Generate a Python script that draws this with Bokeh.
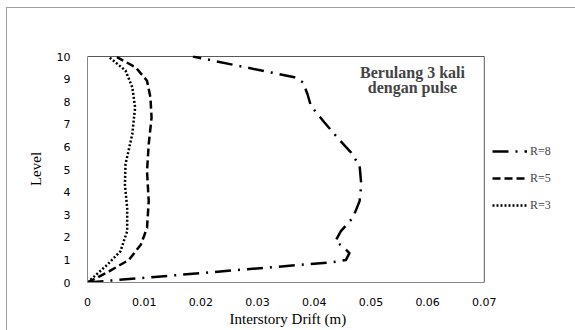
from bokeh.plotting import figure
from bokeh.models import (Legend, LegendItem, Label, FixedTicker, Title,
                          CustomJSTickFormatter, Range1d)
from bokeh.embed import file_html
from bokeh.resources import INLINE

# Data: (interstory drift in m, level)
r8_drift = [0, 0.0433, 0.0456, 0.0462, 0.0450, 0.0437, 0.0447, 0.0468, 0.0480, 0.0483,
            0.0480, 0.0465, 0.0441, 0.0418, 0.0394, 0.0388, 0.0380, 0.0365, 0.0186]
r8_level = [0, 0.9, 1.0, 1.3, 1.6, 1.82, 2.27, 2.86, 3.6, 4.34,
            5.16, 5.75, 6.41, 7.08, 7.82, 8.34, 8.86, 9.08, 10]
r5_drift = [0, 0.0038, 0.0073, 0.0094, 0.0105, 0.0108, 0.0105, 0.0108, 0.0113, 0.0111,
            0.0105, 0.0085, 0.0052]
r5_level = [0, 0.49, 1.0, 1.67, 2.41, 3.6, 4.93, 6.12, 7.3, 8.19, 8.93, 9.52, 9.97]
r3_drift = [0, 0.0035, 0.0058, 0.0070, 0.0070, 0.0066, 0.0067, 0.0079, 0.0084, 0.0079,
            0.0067, 0.0038]
r3_level = [0, 0.79, 1.38, 2.27, 3.3, 4.34, 5.23, 6.56, 7.75, 8.64, 9.38, 9.97]
x_ticks = [0, 0.01, 0.02, 0.03, 0.04, 0.05, 0.06, 0.07]
y_ticks = [0, 1, 2, 3, 4, 5, 6, 7, 8, 9, 10]
series_labels = ["R=8", "R=5", "R=3"]
title_lines = ["Berulang 3 kali", "dengan pulse"]
x_label = "Interstory Drift (m)"
y_label = "Level"

SERIF = "Liberation Serif"
SANS = "DejaVu Sans"

# plot area: 396 px for the x axis span, frame extends to the right to hold the legend
x_min, x_max = x_ticks[0], x_ticks[-1]
y_min, y_max = y_ticks[0], y_ticks[-1]
frame_w, axis_w = 488, 396
frame_h, axis_h = 226, 225
x_end = x_min + (x_max - x_min) * frame_w / axis_w
y_end = y_min + (y_max - y_min) * frame_h / axis_h

p = figure(width=568, height=322, output_backend="svg", toolbar_location=None,
           x_range=Range1d(x_min, x_end), y_range=Range1d(y_min, y_end))
p.styles = {"border-left": "1px solid #a0a0a0", "border-top": "1px solid #a0a0a0",
            "margin-left": "6px", "margin-top": "7px", "box-sizing": "content-box"}
p.min_border_left = 80
p.min_border_right = 0
p.min_border_top = 47
p.min_border_bottom = 49
p.grid.visible = False
p.background_fill_color = "white"
p.border_fill_color = "white"
p.outline_line_color = None

# axes
p.xaxis.ticker = FixedTicker(ticks=x_ticks)
p.yaxis.ticker = FixedTicker(ticks=y_ticks)
p.xaxis.bounds = (x_min, x_max)
p.yaxis.bounds = (y_min, y_max)
p.xaxis.formatter = CustomJSTickFormatter(code="return Number(tick.toFixed(2)).toString();")
for ax in (p.xaxis, p.yaxis):
    ax.major_tick_line_color = None
    ax.minor_tick_line_color = None
    ax.axis_line_color = "#868686"
    ax.major_label_text_font = SANS
    ax.major_label_text_font_size = "11px"
    ax.major_label_text_color = "#000000"
    ax.axis_label_text_font = SERIF
    ax.axis_label_text_font_style = "normal"
    ax.axis_label_text_font_size = "15px"
    ax.axis_label_text_color = "#000000"
p.yaxis.axis_label = y_label
p.xaxis.major_label_standoff = 9
p.yaxis.major_label_standoff = 11
p.yaxis.axis_label_standoff = 10

# x axis title, centred under the 0..0.07 span (the frame extends further right)
p.add_layout(Title(text=x_label, align="left", offset=142, standoff=0,
                   text_font=SERIF, text_font_style="normal", text_font_size="15px",
                   text_color="#000000"), "below")

# plot-area border (top and right sides)
p.line([x_min, x_max, x_max], [y_max, y_max, y_min], line_color="#595959", line_width=1)

r8 = p.line(r8_drift, r8_level, line_color="black", line_width=2.5,
            line_dash="16 7 2 7", line_join="round")
r5 = p.line(r5_drift, r5_level, line_color="black", line_width=2.5,
            line_dash="8 4", line_join="round")
r3 = p.line(r3_drift, r3_level, line_color="black", line_width=2.5,
            line_dash="2 2", line_join="round")

legend = Legend(items=[LegendItem(label=series_labels[0], renderers=[r8]),
                       LegendItem(label=series_labels[1], renderers=[r5]),
                       LegendItem(label=series_labels[2], renderers=[r3])],
                location=(405, 67))
legend.glyph_width = 35
legend.glyph_height = 20
legend.label_standoff = 3
legend.spacing = 7
legend.padding = 0
legend.margin = 0
legend.border_line_color = None
legend.background_fill_alpha = 0
legend.label_text_font = SERIF
legend.label_text_font_size = "12px"
legend.label_height = 20
p.add_layout(legend)

p.add_layout(Label(x=325, y=210, x_units="screen", y_units="screen", text=title_lines[0],
                   text_font=SERIF, text_font_style="bold", text_font_size="16px",
                   text_align="center", text_baseline="middle"))
p.add_layout(Label(x=325, y=195, x_units="screen", y_units="screen", text=title_lines[1],
                   text_font=SERIF, text_font_style="bold", text_font_size="16px",
                   text_align="center", text_baseline="middle"))

open("out.html", "w").write(file_html(p, INLINE))
